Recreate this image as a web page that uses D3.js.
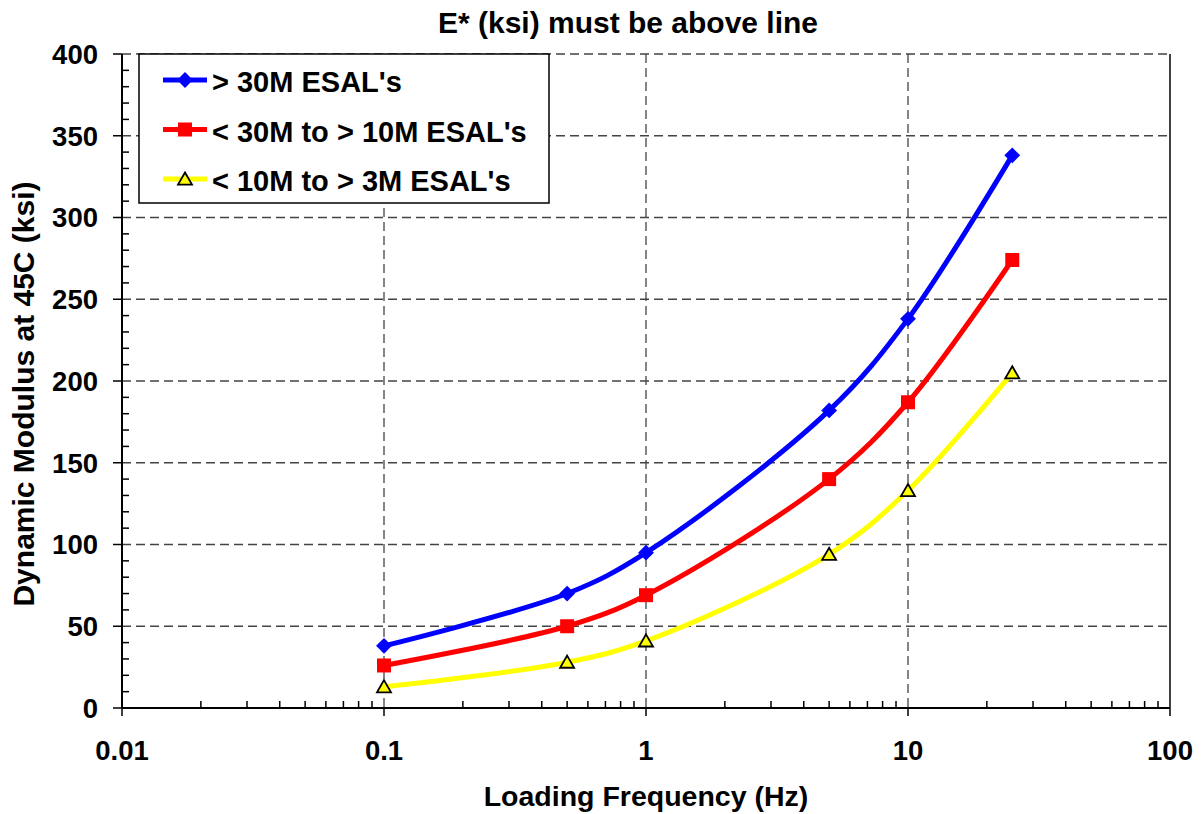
<!DOCTYPE html>
<html>
<head>
<meta charset="utf-8">
<script src="https://cdn.jsdelivr.net/npm/d3@7"></script>
<style>
  body { margin: 0; background: #fff; }
  text { font-family: Arial, "Liberation Sans", sans-serif; font-weight: bold; fill: #000; }
</style>
</head>
<body>
<div class="canvas"></div>
<script>
// data
const freqs = [0.1, 0.5, 1, 5, 10, 25];
const above30M = [38, 70, 95, 182, 238, 338];
const from10to30M = [26, 50, 69, 140, 187, 274];
const from3to10M = [13, 28, 41, 94, 133, 205];
const seriesNames = ["> 30M ESAL's", "< 30M to > 10M ESAL's", "< 10M to > 3M ESAL's"];
const xTicks = [0.01, 0.1, 1, 10, 100];
const yTicks = [0, 50, 100, 150, 200, 250, 300, 350, 400];

const series = [
  { name: seriesNames[0], values: above30M, color: '#0000ff', marker: 'diamond' },
  { name: seriesNames[1], values: from10to30M, color: '#ff0000', marker: 'square' },
  { name: seriesNames[2], values: from3to10M, color: '#ffff00', marker: 'triangle' }
];

const W = 1201, H = 814;
const plot = { left: 122, right: 1170, top: 54, bottom: 708 };

const svg = d3.select('.canvas')
  .append('svg')
  .attr('width', W)
  .attr('height', H);

const x = d3.scaleLog().domain([0.01, 100]).range([plot.left, plot.right]);
const y = d3.scaleLinear().domain([0, 400]).range([plot.bottom, plot.top]);

// grid
const grid = svg.append('g');
grid.selectAll('.hgrid').data(yTicks.filter(d => d > 0))
  .enter().append('line')
  .attr('x1', plot.left).attr('x2', plot.right)
  .attr('y1', d => y(d)).attr('y2', d => y(d))
  .attr('stroke', '#444').attr('stroke-width', 1.3)
  .attr('stroke-dasharray', '9,5');
grid.selectAll('.vgrid').data(xTicks.slice(1, -1))
  .enter().append('line')
  .attr('x1', d => x(d)).attr('x2', d => x(d))
  .attr('y1', plot.top).attr('y2', plot.bottom)
  .attr('stroke', '#444').attr('stroke-width', 1.3)
  .attr('stroke-dasharray', '9,5');

// right border
svg.append('line')
  .attr('x1', plot.right).attr('x2', plot.right)
  .attr('y1', plot.top).attr('y2', plot.bottom)
  .attr('stroke', '#000').attr('stroke-width', 1.5);

// y axis
const yMinor = d3.range(0, 401, 10).filter(d => d % 50 !== 0);
svg.append('g')
  .selectAll('line').data(yMinor).enter().append('line')
  .attr('x1', plot.left).attr('x2', plot.left + 7)
  .attr('y1', d => y(d)).attr('y2', d => y(d))
  .attr('stroke', '#000').attr('stroke-width', 1.5);
svg.append('g')
  .selectAll('line').data(yTicks).enter().append('line')
  .attr('x1', plot.left - 9).attr('x2', plot.left)
  .attr('y1', d => y(d)).attr('y2', d => y(d))
  .attr('stroke', '#000').attr('stroke-width', 1.5);
svg.append('g')
  .selectAll('text').data(yTicks).enter().append('text')
  .attr('x', plot.left - 24)
  .attr('y', d => y(d))
  .attr('dy', '0.36em')
  .attr('text-anchor', 'end')
  .style('font-size', '27.5px')
  .text(d => d);

// x axis
const xMinor = [];
[0.01, 0.1, 1, 10].forEach(dec => { for (let k = 2; k <= 9; k++) xMinor.push(dec * k); });
svg.append('g')
  .selectAll('line').data(xMinor).enter().append('line')
  .attr('x1', d => x(d)).attr('x2', d => x(d))
  .attr('y1', plot.bottom - 7).attr('y2', plot.bottom)
  .attr('stroke', '#000').attr('stroke-width', 1.5);
svg.append('g')
  .selectAll('line').data(xTicks).enter().append('line')
  .attr('x1', d => x(d)).attr('x2', d => x(d))
  .attr('y1', plot.bottom).attr('y2', plot.bottom + 8)
  .attr('stroke', '#000').attr('stroke-width', 1.5);
svg.append('g')
  .selectAll('text').data(xTicks).enter().append('text')
  .attr('x', d => x(d))
  .attr('y', plot.bottom + 52)
  .attr('text-anchor', 'middle')
  .style('font-size', '27.5px')
  .text(d => d);

// axis lines
svg.append('line')
  .attr('x1', plot.left).attr('x2', plot.left)
  .attr('y1', plot.top).attr('y2', plot.bottom)
  .attr('stroke', '#000').attr('stroke-width', 2);
svg.append('line')
  .attr('x1', plot.left).attr('x2', plot.right)
  .attr('y1', plot.bottom).attr('y2', plot.bottom)
  .attr('stroke', '#000').attr('stroke-width', 2);

// titles
svg.append('text')
  .attr('x', 628)
  .attr('y', 33)
  .attr('text-anchor', 'middle')
  .style('font-size', '30px')
  .text('E* (ksi) must be above line');
svg.append('text')
  .attr('x', 646)
  .attr('y', 806)
  .attr('text-anchor', 'middle')
  .style('font-size', '28.5px')
  .text('Loading Frequency (Hz)');
svg.append('text')
  .attr('transform', 'translate(34, 394) rotate(-90)')
  .attr('text-anchor', 'middle')
  .style('font-size', '30px')
  .text('Dynamic Modulus at 45C (ksi)');

// series
const line = d3.line()
  .x(d => x(d[0]))
  .y(d => y(d[1]))
  .curve(d3.curveCatmullRom.alpha(0.5));

const markerPath = {
  diamond: d3.symbol().type(d3.symbolDiamond2).size(160)(),
  square: d3.symbol().type(d3.symbolSquare).size(196)(),
  triangle: d3.symbol().type(d3.symbolTriangle2).size(140)()
};

function drawMarker(g, s, cx, cy) {
  g.append('path')
    .attr('d', markerPath[s.marker])
    .attr('transform', `translate(${cx}, ${cy})` + (s.marker === 'triangle' ? ' translate(0, 1.5)' : ''))
    .attr('fill', s.color)
    .attr('stroke', s.marker === 'triangle' ? '#000' : 'none')
    .attr('stroke-width', 1.8);
}

series.forEach(s => {
  const pts = freqs.map((f, i) => [f, s.values[i]]);
  svg.append('path')
    .datum(pts)
    .attr('fill', 'none')
    .attr('stroke', s.color)
    .attr('stroke-width', 5)
    .attr('d', line);
  const g = svg.append('g');
  pts.forEach(p => drawMarker(g, s, x(p[0]), y(p[1])));
});

// legend
const legend = svg.append('g');
legend.append('rect')
  .attr('x', 139).attr('y', 54)
  .attr('width', 410).attr('height', 149)
  .attr('fill', '#fff')
  .attr('stroke', '#000').attr('stroke-width', 1.5);
series.forEach((s, i) => {
  const ly = 80 + i * 49.5;
  legend.append('line')
    .attr('x1', 163).attr('x2', 207)
    .attr('y1', ly).attr('y2', ly)
    .attr('stroke', s.color).attr('stroke-width', 5);
  drawMarker(legend, s, 185, ly);
  legend.append('text')
    .attr('x', 212)
    .attr('y', ly + 12)
    .style('font-size', '29px')
    .text(s.name);
});
</script>
</body>
</html>
